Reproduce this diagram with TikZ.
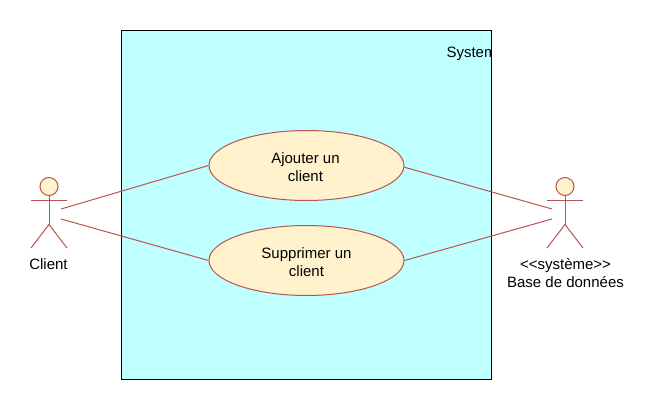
\documentclass[tikz,border=0pt]{standalone}
\usepackage{fontspec}
\setmainfont{Liberation Sans}
\usepackage{xcolor}
\usetikzlibrary{positioning,shapes.geometric}
\definecolor{sysfill}{HTML}{C0FFFF}
\definecolor{casefill}{HTML}{FFF2CC}
\definecolor{caseline}{HTML}{B85450}

\begin{document}
\begin{tikzpicture}[x=0.75pt,y=-0.75pt,line width=0.75pt,
                    every node/.style={font=\fontsize{11.25}{13.5}\selectfont,align=center},
                    usecase/.style={draw=caseline,fill=casefill,ellipse,inner sep=0pt,
                                    minimum width=146.25pt,minimum height=52.5pt},
                    casetext/.style={inner sep=0pt,yshift=-1.5pt},
                    link/.style={draw=caseline},
                    sysbox/.style={fill=sysfill,rectangle,inner sep=0pt,outer sep=0pt,
                                   minimum width=277.5pt,minimum height=261.75pt},
                    actorname/.style={inner sep=0pt}]
  \useasboundingbox (0,0) rectangle (654,410);

  \node[sysbox] (system) at (306.5,205) {};
  \begin{scope}
    \clip (system.north west) rectangle (system.south east);
    \node[anchor=base west,inner sep=0pt] (systemlabel) at (446,58) {System};
  \end{scope}
  \draw (system.north west) rectangle (system.south east);

  \node[usecase] (ajouter)   at (306.5,165.5) {};
  \node[usecase] (supprimer) at (306.5,260.5) {};
  \node[casetext,xshift=-0.75pt] (ajoutertext) at (ajouter) {Ajouter un\\client};
  \node[casetext] (supprimertext) at (supprimer) {Supprimer un\\client};

  % left actor
  \node[draw=caseline,fill=casefill,circle,minimum size=13.5pt,inner sep=0pt] (clienthead) at (49,186.5) {};
  \coordinate (clienthip) at (49,224.5);
  \draw[link] (clienthead.south) -- (clienthip);
  \draw[link] (31,200.5) -- (67,200.5);
  \draw[link] (31,248) -- (clienthip) -- (67,248);
  \node[actorname] (client) at (48.5,264) {Client};
  \coordinate (clienta) at (61,209);
  \coordinate (clientb) at (61,219);

  % right actor
  \node[draw=caseline,fill=casefill,circle,minimum size=13.5pt,inner sep=0pt] (basehead) at (565,186.5) {};
  \coordinate (basehip) at (565,224.5);
  \draw[link] (basehead.south) -- (basehip);
  \draw[link] (547,200.5) -- (583,200.5);
  \draw[link] (547,248) -- (basehip) -- (583,248);
  \node[actorname] (base) at (565.5,273) {{<}{<}système{>}{>}\\Base de données};
  \coordinate (basea) at (552,209);
  \coordinate (baseb) at (552,219);

  \draw[link] (clienta) -- (ajouter.west);
  \draw[link] (clientb) -- (supprimer.west);
  \draw[link] (ajouter.-1.8) -- (basea);
  \draw[link] (supprimer.east) -- (baseb);
\end{tikzpicture}
\end{document}
